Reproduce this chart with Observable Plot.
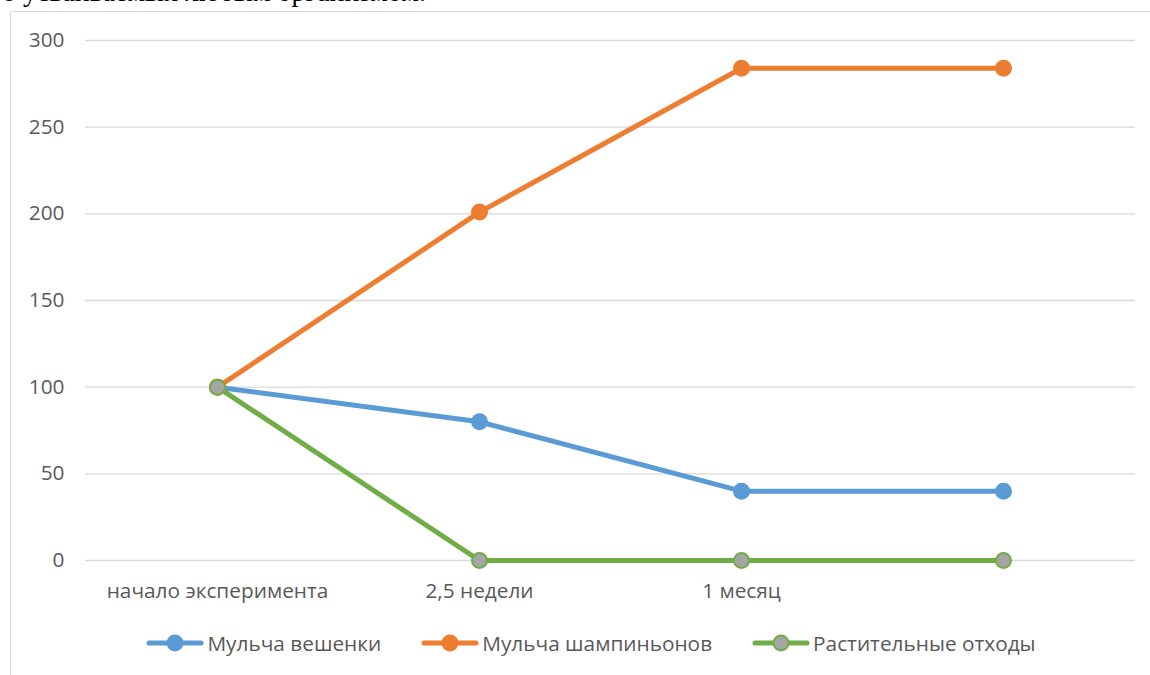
<!DOCTYPE html>
<html>
<head>
<meta charset="utf-8">
<script src="https://cdn.jsdelivr.net/npm/d3@7"></script>
<script src="https://cdn.jsdelivr.net/npm/@observablehq/plot@0.6"></script>
<style>
  html, body { margin: 0; padding: 0; background: #fff; overflow: hidden; }
  body { width: 1150px; height: 675px; position: relative; font-family: "Open Sans", "Liberation Sans", sans-serif; }
  #lead { position: absolute; left: 2px; top: -24px; font-family: "Liberation Serif", "DejaVu Serif", serif; font-size: 28px; color: #000; white-space: nowrap; }
  #frame { position: absolute; left: 10px; top: 11px; width: 1200px; height: 720px; border: 1.5px solid #d9d9d9; background: #fff; }
  #chart svg { display: block; }
  #legend { position: absolute; left: 0; top: 617px; width: 1160px; display: flex; justify-content: center; align-items: center; gap: 40px; font-size: 20.8px; color: #595959; }
  .item { display: flex; align-items: center; gap: 3px; }
</style>
</head>
<body>
<div id="lead">о усваиваемых любым организмом.</div>
<div id="frame">
  <div id="chart"></div>
  <div id="legend"></div>
</div>
<script>
// Time points (the last one carries no caption)
const stages = ["начало эксперимента", "2,5 недели", "1 месяц", " "];
const seriesNames = ["Мульча вешенки", "Мульча шампиньонов", "Растительные отходы"];
const oyster = [100, 80, 40, 40];
const champignon = [100, 201, 284, 284];
const plantWaste = [100, 0, 0, 0];
const yTicks = [0, 50, 100, 150, 200, 250, 300];
const lineColors = ["#5b9bd5", "#ed7d31", "#70ad47"];
const markerFills = ["#5b9bd5", "#ed7d31", "#a5a5a5"];

const rows = [oyster, champignon, plantWaste].flatMap((vals, s) =>
  vals.map((v, i) => ({series: seriesNames[s], stage: stages[i], value: v}))
);

const chart = Plot.plot({
  width: 1140,
  height: 600,
  marginLeft: 74,
  marginRight: 16,
  marginTop: 28,
  marginBottom: 52,
  style: {fontFamily: "'Open Sans', 'Liberation Sans', sans-serif", fontSize: "20.8px", color: "#595959", background: "transparent"},
  x: {type: "point", domain: stages, padding: 0.5, label: null},
  y: {domain: [0, 300], ticks: yTicks, label: null},
  color: {domain: seriesNames, range: lineColors},
  marks: [
    Plot.gridY(yTicks, {stroke: "#d9d9d9", strokeOpacity: 1, strokeWidth: 1.3}),
    Plot.axisY(yTicks, {tickSize: 0, tickPadding: 21, fontSize: 20.8, fill: "#595959"}),
    Plot.axisX({tickSize: 0, tickPadding: 23, fontSize: 20.8, fill: "#595959"}),
    Plot.line(rows, {x: "stage", y: "value", z: "series", stroke: "series", strokeWidth: 5, strokeLinejoin: "round", strokeLinecap: "round"}),
    Plot.dot(rows, {
      x: "stage", y: "value", r: 7.5,
      fill: d => markerFills[seriesNames.indexOf(d.series)],
      stroke: "series", strokeWidth: 2
    })
  ]
});
document.getElementById("chart").appendChild(chart);

// Legend below the plot
const legend = d3.select("#legend");
seriesNames.forEach((name, i) => {
  const item = legend.append("div").attr("class", "item");
  const sw = item.append("svg").attr("width", 58).attr("height", 20);
  sw.append("line").attr("x1", 3).attr("x2", 55).attr("y1", 10).attr("y2", 10)
    .attr("stroke", lineColors[i]).attr("stroke-width", 5).attr("stroke-linecap", "round");
  sw.append("circle").attr("cx", 29).attr("cy", 10).attr("r", 7.5)
    .attr("fill", markerFills[i]).attr("stroke", lineColors[i]).attr("stroke-width", 2);
  item.append("span").text(name);
});
</script>
</body>
</html>
